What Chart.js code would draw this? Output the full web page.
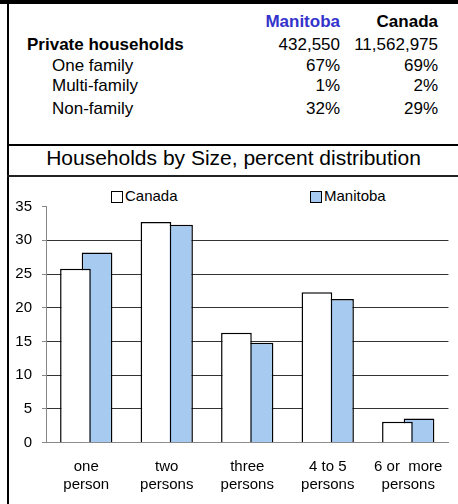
<!DOCTYPE html>
<html>
<head>
<meta charset="utf-8">
<script src="https://cdn.jsdelivr.net/npm/chart.js@4"></script>
<style>
  html, body { margin: 0; padding: 0; background: #fff; }
  body { width: 458px; height: 504px; position: relative; overflow: hidden;
         font-family: "Liberation Sans", Arial, sans-serif; color: #000; }
  .abs { position: absolute; white-space: pre; }
  .t { font-size: 17px; line-height: 17px; }
  .b { font-weight: bold; }
  .r { text-align: right; }
  #topband { left: 0; top: 0; width: 458px; height: 4px; background: #000; }
  #leftline { left: 7px; top: 0; width: 2px; height: 504px; background: #000; }
  #line1 { left: 7px; top: 144px; width: 451px; height: 2px; background: #000; }
  #line2 { left: 7px; top: 175px; width: 451px; height: 2px; background: #222; }
  #title { left: 9px; width: 449px; top: 146.6px; font-size: 21px; line-height: 21px; text-align: center; }
  .lg { font-size: 15px; line-height: 15px; top: 188px; }
  .lgbox { position: absolute; top: 191px; width: 10px; height: 10px; border: 1px solid #000; }
  #chartwrap { position: absolute; left: 9px; top: 177px; width: 449px; height: 327px; }
</style>
</head>
<body>
<div class="abs" id="topband"></div>
<div class="abs" id="leftline"></div>
<div class="abs" id="line1"></div>
<div class="abs" id="line2"></div>
<div id="table"></div>
<div class="abs" id="title"></div>
<div id="legend"></div>
<div id="chartwrap"><canvas id="c" width="449" height="327"></canvas></div>
<script>
// ---- data ----
const tableHeader = ["Manitoba", "Canada"];
const tableRowLabels = ["Private households", "One family", "Multi-family", "Non-family"];
const manitobaTable = ["432,550", "67%", "1%", "32%"];
const canadaTable = ["11,562,975", "69%", "2%", "29%"];
const chartTitle = "Households by Size, percent distribution";
const categories = [["one", "person"], ["two", "persons"], ["three", "persons"], ["4 to 5", "persons"], ["6 or  more", "persons"]];
const seriesNames = ["Canada", "Manitoba"];
const canadaValues = [25.8, 32.7, 16.3, 22.3, 3.1];
const manitobaValues = [28.2, 32.3, 14.8, 21.3, 3.6];
const yMin = 0, yMax = 35, yStep = 5;

// ---- table ----
const table = document.getElementById('table');
function addText(txt, cls, style) {
  const d = document.createElement('div');
  d.className = 'abs t ' + cls;
  d.textContent = txt;
  Object.assign(d.style, style);
  table.appendChild(d);
  return d;
}
const rowTops = [35.6, 57.4, 76.6, 99.6];
addText(tableHeader[0], 'b r', { right: (458 - 340) + 'px', top: '12.6px', color: '#3333CC' });
addText(tableHeader[1], 'b r', { right: (458 - 438) + 'px', top: '12.6px' });
tableRowLabels.forEach((lab, i) => {
  addText(lab, i === 0 ? 'b' : '', { left: (i === 0 ? 27 : 52) + 'px', top: rowTops[i] + 'px' });
  addText(manitobaTable[i], 'r', { right: (458 - 340) + 'px', top: rowTops[i] + 'px' });
  addText(canadaTable[i], 'r', { right: (458 - 438) + 'px', top: rowTops[i] + 'px' });
});
document.getElementById('title').textContent = chartTitle;

// ---- legend (HTML) ----
const fills = ['#FFFFFF', '#A6CAF0'];
const legend = document.getElementById('legend');
const legendX = [111, 310];
seriesNames.forEach((n, i) => {
  const box = document.createElement('div');
  box.className = 'lgbox';
  box.style.left = legendX[i] + 'px';
  box.style.background = fills[i];
  legend.appendChild(box);
  const t = document.createElement('div');
  t.className = 'abs lg';
  t.style.left = (legendX[i] + 14) + 'px';
  t.textContent = n;
  legend.appendChild(t);
});

// ---- chart ----
const font = { family: '"Liberation Sans", Arial, sans-serif', size: 15 };
const xFont = { family: '"Liberation Sans", Arial, sans-serif', size: 15, lineHeight: 1.22 };
new Chart(document.getElementById('c'), {
  type: 'bar',
  data: {
    labels: categories,
    datasets: [
      { label: seriesNames[0], data: canadaValues, backgroundColor: fills[0], borderColor: '#000', borderWidth: 1.5,
        categoryPercentage: 0.537, barPercentage: 1.42 },
      { label: seriesNames[1], data: manitobaValues, backgroundColor: fills[1], borderColor: '#000', borderWidth: 1.5,
        categoryPercentage: 0.537, barPercentage: 1.42 }
    ]
  },
  options: {
    responsive: false,
    animation: false,
    layout: { padding: { top: 29.6, right: 6, bottom: 0, left: 0 } },
    plugins: { legend: { display: false }, tooltip: { enabled: false }, title: { display: false } },
    scales: {
      x: {
        grid: { display: false, drawTicks: false },
        border: { display: true, color: '#888', width: 1 },
        ticks: { font: xFont, color: '#000', padding: 15, maxRotation: 0, autoSkip: false },
        afterFit: s => { s.height = 61.3; }
      },
      y: {
        min: yMin, max: yMax,
        grid: {
          color: c => (c.tick && c.tick.value === yMax) ? 'rgba(0,0,0,0)' : (c.tick && c.tick.value === 0 ? '#888' : '#333'),
          lineWidth: 1, drawTicks: true, tickLength: 4, tickColor: '#888'
        },
        border: { display: true, color: '#888', width: 1 },
        ticks: { stepSize: yStep, font: font, color: '#000', padding: 10 },
        afterFit: s => { s.width = 37; }
      }
    }
  }
});
</script>
</body>
</html>
